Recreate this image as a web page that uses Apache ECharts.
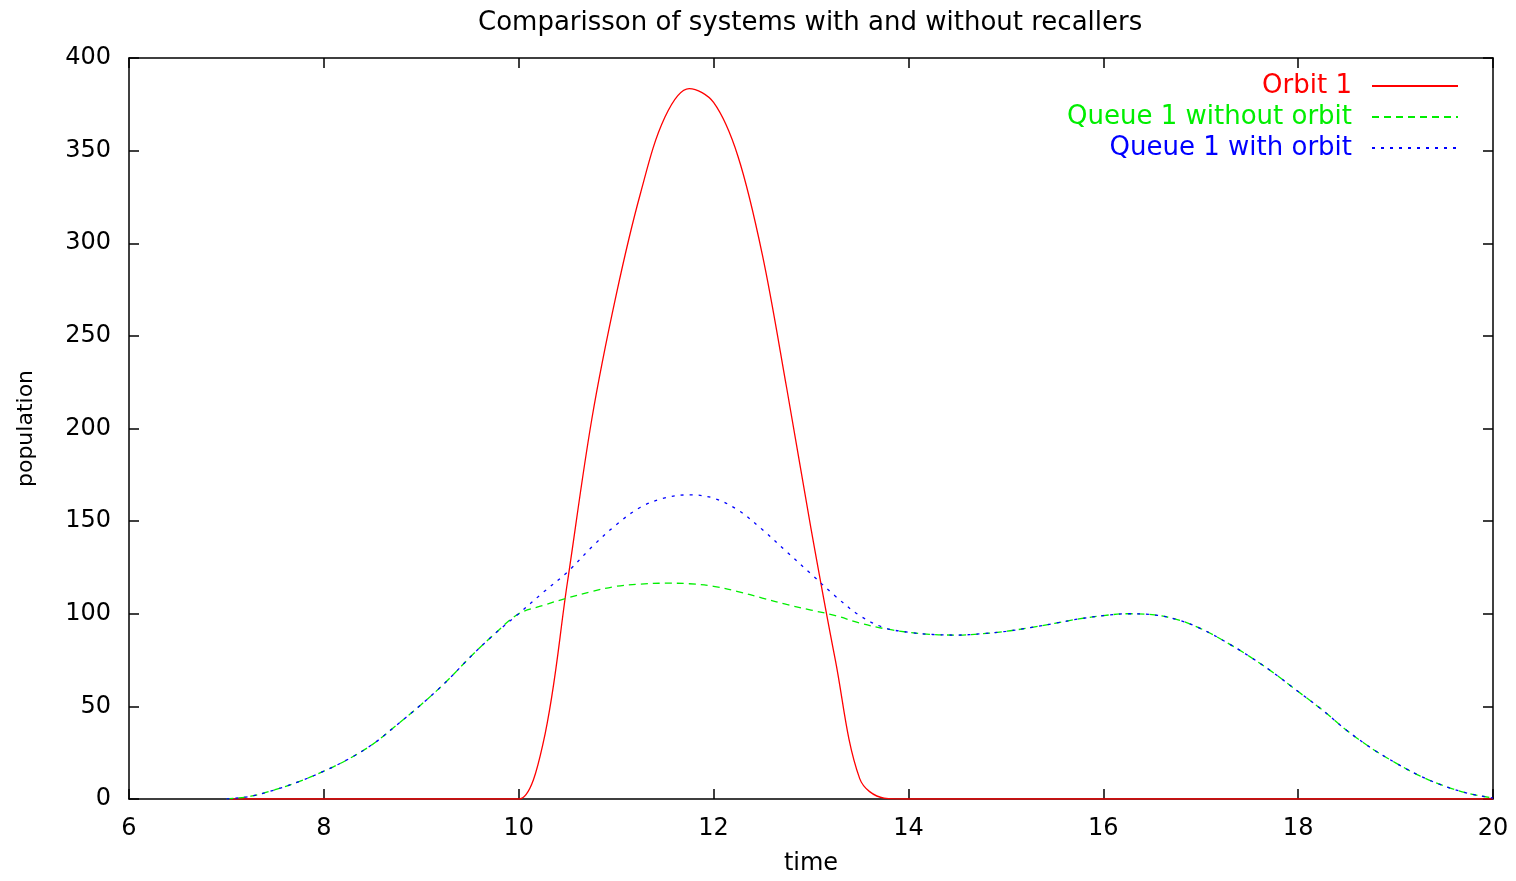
<!DOCTYPE html>
<html>
<head>
<meta charset="utf-8">
<script src="https://cdn.jsdelivr.net/npm/echarts@6/dist/echarts.min.js"></script>
<style>
  html, body { margin: 0; padding: 0; background: #fff; }
  #chart { width: 1516px; height: 881px; }
</style>
</head>
<body>
<div id="chart"></div>
<script>
// time grid (x values)
const times = [7, 7.25, 7.5, 7.75, 8, 8.25, 8.5, 8.75, 9, 9.25, 9.5, 9.75,
  10, 10.25, 10.5, 10.75, 11, 11.25, 11.5, 11.75, 12, 12.25, 12.5, 12.75,
  13, 13.25, 13.5, 13.75, 14, 14.25, 14.5, 14.75, 15, 15.25, 15.5, 15.75,
  16, 16.25, 16.5, 16.75, 17, 17.25, 17.5, 17.75, 18, 18.25, 18.5, 18.75,
  19, 19.25, 19.5, 19.75, 20];

// Orbit 1
const orbit1 = [0, 0, 0, 0, 0, 0, 0, 0, 0, 0, 0, 0,
  0, 30, 117, 205, 272, 327, 368, 383.5, 376, 347, 294, 222,
  146, 75, 11, 0.5, 0, 0, 0, 0, 0, 0, 0, 0,
  0, 0, 0, 0, 0, 0, 0, 0, 0, 0, 0, 0,
  0, 0, 0, 0, 0];

// Queue 1 without orbit
const queueNoOrbit = [0, 1.5, 5, 9.5, 15, 21.5, 29.5, 40, 51, 63, 76.5, 89,
  100, 104.5, 108.5, 112, 114.8, 116, 116.5, 116.2, 114.8, 112, 108.5, 105,
  102, 99, 95, 92, 90, 88.8, 88.5, 89.2, 90.5, 92.5, 94.8, 97.2,
  99, 100, 99.5, 97, 92, 85, 77, 68, 58, 48, 37, 27.5,
  19.5, 12.5, 7, 3, 0.5];

// Queue 1 with orbit
const queueWithOrbit = [0, 1.5, 5, 9.5, 15, 21.5, 29.5, 40, 51, 63, 76.5, 89,
  100, 111.5, 122.5, 136, 148, 157.5, 162.5, 164.2, 162.4, 156, 145.5, 133.5,
  121.5, 109.5, 99, 92.5, 90, 88.8, 88.5, 89.2, 90.5, 92.5, 94.8, 97.2,
  99, 100, 99.5, 97, 92, 85, 77, 68, 58, 48, 37, 27.5,
  19.5, 12.5, 7, 3, 0.5];

const seriesNames = ['Orbit 1', 'Queue 1 without orbit', 'Queue 1 with orbit'];
const seriesColors = ['#ff0000', '#00ee00', '#0000ff'];

const FONT = 'DejaVu Sans';

function pairs(ys) {
    return times.map((t, i) => [t, ys[i]]);
}

let myChart = echarts.init(document.getElementById('chart'));

// shared style for the frame axes
const frameLine = { show: true, onZero: false, lineStyle: { color: '#000', width: 1.5 } };
const frameTick = { show: true, inside: true, length: 10, lineStyle: { color: '#000', width: 1.5 } };

let option = {
    animation: false,
    backgroundColor: '#fff',
    title: {
        text: 'Comparisson of systems with and without recallers',
        left: 473,
        top: 5,
        textStyle: { fontFamily: FONT, fontSize: 26, fontWeight: 'normal', color: '#000' }
    },
    grid: { left: 129, right: 23, top: 58, bottom: 76, containLabel: false },
    legend: {
        orient: 'vertical',
        right: 52,
        top: 68,
        align: 'right',
        itemWidth: 86,
        itemHeight: 14,
        itemGap: 5,
        itemStyle: { opacity: 0 },
        textStyle: { fontFamily: FONT, fontSize: 26, padding: [0, 15, 0, 0] },
        data: seriesNames.map((n, i) => ({ name: n, textStyle: { color: seriesColors[i] } }))
    },
    xAxis: [{
        type: 'value',
        min: 6, max: 20, interval: 2,
        position: 'bottom',
        name: 'time',
        nameLocation: 'middle',
        nameGap: 53,
        nameTextStyle: { fontFamily: FONT, fontSize: 24, color: '#000' },
        axisLine: frameLine,
        axisTick: frameTick,
        axisLabel: { margin: 18, fontFamily: FONT, fontSize: 24, color: '#000' },
        splitLine: { show: false }
    }, {
        type: 'value',
        min: 6, max: 20, interval: 2,
        position: 'top',
        axisLine: frameLine,
        axisTick: frameTick,
        axisLabel: { show: false },
        splitLine: { show: false }
    }],
    yAxis: [{
        type: 'value',
        min: 0, max: 400, interval: 50,
        position: 'left',
        name: 'population',
        nameLocation: 'middle',
        nameRotate: 90,
        nameGap: 92,
        nameTextStyle: { fontFamily: FONT, fontSize: 22, color: '#000' },
        axisLine: frameLine,
        axisTick: frameTick,
        axisLabel: { margin: 18, fontFamily: FONT, fontSize: 24, color: '#000' },
        splitLine: { show: false }
    }, {
        type: 'value',
        min: 0, max: 400, interval: 50,
        position: 'right',
        axisLine: frameLine,
        axisTick: frameTick,
        axisLabel: { show: false },
        splitLine: { show: false }
    }],
    series: [
        {
            name: seriesNames[0],
            type: 'line',
            data: pairs(orbit1),
            smooth: 0.35,
            symbol: 'none',
            color: seriesColors[0],
            lineStyle: { color: seriesColors[0], width: 1.3, type: 'solid' }
        },
        {
            name: seriesNames[1],
            type: 'line',
            data: pairs(queueNoOrbit),
            smooth: 0.35,
            symbol: 'none',
            color: seriesColors[1],
            lineStyle: { color: seriesColors[1], width: 1.3, type: [7, 5] }
        },
        {
            name: seriesNames[2],
            type: 'line',
            data: pairs(queueWithOrbit),
            smooth: 0.35,
            symbol: 'none',
            color: seriesColors[2],
            lineStyle: { color: seriesColors[2], width: 1.3, type: [3, 6] }
        }
    ]
};
option && myChart.setOption(option);
</script>
</body>
</html>
